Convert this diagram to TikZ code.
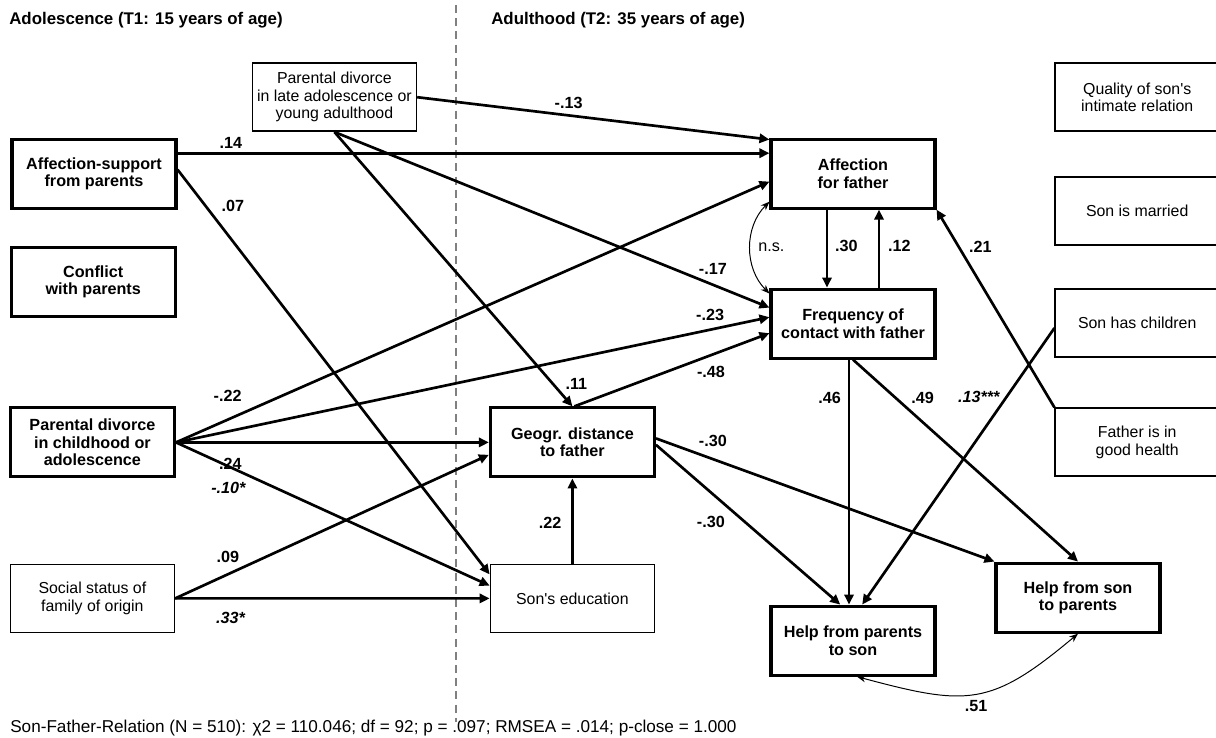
\documentclass[tikz,border=0pt]{standalone}
\usepackage{fontspec}
\setmainfont{Liberation Sans}
\usepackage{tikz}
\usetikzlibrary{arrows.meta}
\tikzset{bigbox/.style={draw, line width=2.2pt, minimum width=4.1cm, minimum height=1.725cm, align=center, font=\bfseries\fontsize{11.5}{12.4}\selectfont}}
\tikzset{smallbox/.style={draw, line width=1.1pt, minimum width=4.1cm, minimum height=1.7cm, align=center, font=\fontsize{11.3}{12.4}\selectfont}}
\tikzset{coef/.style={inner sep=1pt, font=\bfseries\fontsize{11.5}{13}\selectfont}}
\tikzset{arr/.style={->, line width=1.9pt}}
\tikzset{corr/.style={<->, >={Stealth[length=2.2mm, width=1.7mm]}, line width=0.7pt}}

\begin{document}
\begin{tikzpicture}[>={Triangle[length=2.5mm, width=2.3mm]}]
    \useasboundingbox (0,0) rectangle (30.4,-18.45);

    \node[anchor=west, inner sep=0pt, font=\bfseries\fontsize{12}{14}\selectfont] at (0.225,-0.5) (tadol){Adolescence (T1: 15 years of age)};
    \node[anchor=west, inner sep=0pt, font=\bfseries\fontsize{12}{14}\selectfont] at (12.275,-0.5) (tadult){Adulthood (T2: 35 years of age)};
    \draw[gray, line width=0.8pt, dash pattern=on 2mm off 1.3mm] (11.4,-0.125) -- (11.4,-18.05);

    \node[bigbox] at (2.35,-4.34) (affsup){Affection-support\\from parents};
    \node[bigbox] at (2.33,-7.05) (conflict){Conflict\\with parents};
    \node[bigbox] at (2.31,-11.06) (divchild){Parental divorce\\in childhood or\\adolescence};
    \node[smallbox] at (2.31,-14.96) (social){Social status of\\family of origin};
    \node[smallbox] at (8.36,-2.43) (divlate){Parental divorce\\in late adolescence or\\young adulthood};

    \node[bigbox] at ([xshift = 18.975cm]affsup) (afffa){Affection\\for father};
    \node[bigbox] at ([yshift = -3.75cm]afffa) (freq){Frequency of\\contact with father};
    \node[bigbox] at ([xshift = 12cm]divchild) (geogr){Geogr. distance\\to father};
    \node[smallbox] at ([yshift = -3.9cm]geogr) (educ){Son\textquotesingle s education};
    \node[bigbox] at ([yshift = -7.925cm]freq) (helpps){Help from parents\\to son};
    \node[bigbox] at (26.95,-14.94) (helpsp){Help from son\\to parents};

    \node[smallbox] at (28.43,-2.43) (quality){Quality of son\textquotesingle s\\intimate relation};
    \node[smallbox] at ([yshift = -2.85cm]quality) (married){Son is married};
    \node[smallbox] at ([yshift = -2.8cm]married) (children){Son has children};
    \node[smallbox] at ([yshift = -2.975cm]children) (health){Father is in\\good health};

    \draw[arr] (divlate.east) -- node[coef, pos=0.43, above=1.1mm]{-.13} ([yshift = -0.5mm]afffa.north west);
    \draw[arr] ([yshift = 5.1mm]affsup.east) -- node[coef, pos=0.09, above=0.5mm]{.14} ([yshift = 5.1mm]afffa.west);
    \draw[arr] ([yshift = 1mm]affsup.east) -- node[coef, pos=0.09, right=3.3mm]{.07} ([yshift = 6mm]educ.west);
    \draw[arr] (divlate.south) -- node[coef, pos=0.92, right=2.35mm]{.11} (geogr.north);
    \draw[arr] (divlate.south) -- node[coef, pos=0.87, above=1.9mm]{-.17} ([yshift = 4mm]freq.west);

    \draw[arr] (divchild.east) -- node[coef, pos=0.087, above=3.9mm]{-.22} ([yshift = -2mm]afffa.west);
    \draw[arr] (divchild.east) -- node[coef, pos=0.9, above=1.55mm]{-.23} ([yshift = 1.6mm]freq.west);
    \draw[arr] (divchild.east) -- node[coef, pos=0.174, below=3.3mm]{.24} (geogr.west);
    \draw[arr] (divchild.east) -- node[coef, pos=0.168, below=3.3mm]{\textit{-.10*}} ([yshift = 3.2mm]educ.west);
    \draw[arr] (social.east) -- node[coef, pos=0.168, above=2.3mm]{.09} ([yshift = -3.1mm]geogr.west);
    \draw[arr] (social.east) -- node[coef, pos=0.177, below=2.8mm]{\textit{.33*}} (educ.west);

    \draw[arr] ([xshift = 0.5mm]geogr.north) -- node[coef, pos=0.7, below=2.2mm]{-.48} ([yshift = -2.4mm]freq.west);
    \draw[arr] (educ.north) -- node[coef, pos=0.48, left=2.1mm]{.22} (geogr.south);
    \draw[arr] ([yshift = 1mm]geogr.east) -- node[coef, pos=0.168, above=2.5mm]{-.30} (helpsp.north west);
    \draw[arr] ([yshift = -0.6mm]geogr.east) -- node[coef, pos=0.48, left=4.2mm]{-.30} ([xshift = -3.2mm]helpps.north);

    \draw[arr] ([xshift = -6.5mm]afffa.south) -- node[coef, pos=0.46, right=1.35mm]{.30} ([xshift = -6.5mm]freq.north);
    \draw[arr] ([xshift = 6.5mm]freq.north) -- node[coef, pos=0.54, right=1.6mm]{.12} ([xshift = 6.5mm]afffa.south);
    \draw[corr] ([yshift = 2mm]afffa.south west) to[bend right=45] node[right=1.5mm, inner sep=1pt, font=\fontsize{11.5}{13}\selectfont]{n.s.} ([yshift = -1.5mm]freq.north west);
    \draw[arr] (health.north west) -- node[coef, pos=0.81, right=1.85mm]{.21} (afffa.south east);

    \draw[arr] ([xshift = -1mm]freq.south) -- node[coef, pos=0.157, left=1.35mm]{.46} ([xshift = -1mm]helpps.north);
    \draw[arr] (freq.south) -- node[coef, pos=0.19, right=3.2mm]{.49} (helpsp.north);
    \draw[arr] ([yshift = -1.2mm]children.west) -- node[coef, pos=0.248, left=1mm]{\textit{.13***}} ([xshift = 2.3mm]helpps.north);
    \draw[corr] ([xshift = 1mm]helpps.south) to[out=-15, in=-140, looseness=1.3] node[coef, pos=0.5, below=1.2mm]{.51} (helpsp.south);

    \node[anchor=west, inner sep=0pt, font=\fontsize{12.2}{14}\selectfont] at (0.25,-18.2) (foot){Son-Father-Relation (N = 510): χ2 = 110.046; df = 92; p = .097; RMSEA = .014; p-close = 1.000};
\end{tikzpicture}
\end{document}
